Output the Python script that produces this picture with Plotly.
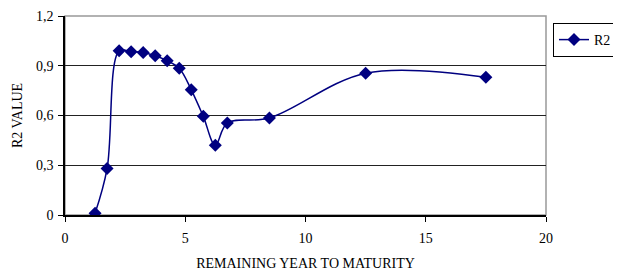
import plotly.graph_objects as go

years = [1.25, 1.75, 2.25, 2.75, 3.25, 3.75, 4.25, 4.75, 5.25, 5.75, 6.25, 6.75, 8.5, 12.5, 17.5]
r2 = [0.01, 0.28, 0.99, 0.985, 0.98, 0.96, 0.93, 0.885, 0.755, 0.595, 0.42, 0.555, 0.585, 0.855, 0.83]
y_ticks = [0, 0.3, 0.6, 0.9, 1.2]
x_ticks = [0, 5, 10, 15, 20]

font = "Liberation Serif"
W, H = 613, 266  # page body has an 8px margin

fig = go.Figure()
fig.add_trace(go.Scatter(
    x=years, y=r2, name="R2", mode="lines+markers",
    line=dict(color="#000080", width=1.5, shape="spline", smoothing=1.0),
    marker=dict(symbol="diamond", size=10, color="#000080"),
))

fig.update_layout(
    width=W, height=H,
    margin=dict(l=57, r=75, t=8, b=59),
    paper_bgcolor="white", plot_bgcolor="white",
    separators=", ",
    font=dict(family=font, size=14, color="black"),
    showlegend=True,
    legend=dict(xref="container", yref="container", x=545/W, xanchor="left",
                y=1 - 15/H, yanchor="top",
                bordercolor="black", borderwidth=1, bgcolor="white",
                font=dict(family=font, size=14), itemwidth=30,
                tracegroupgap=0),
    xaxis=dict(range=[0, 20], tickvals=x_ticks, showgrid=False, zeroline=False,
               showline=True, linecolor="black", linewidth=1.5,
               ticks="outside", ticklen=5, tickcolor="black", automargin=False,
               ticklabelstandoff=4,
               tickfont=dict(family=font, size=14),
               title=dict(text="REMAINING YEAR TO MATURITY", font=dict(family=font, size=14), standoff=14)),
    yaxis=dict(range=[0, 1.2], tickvals=y_ticks, showgrid=True, gridcolor="#222222", gridwidth=1,
               zeroline=False, showline=True, linecolor="black", linewidth=1.5,
               ticks="outside", ticklen=5, tickcolor="black", automargin="left",
               ticklabelstandoff=2,
               tickfont=dict(family=font, size=14),
               title=dict(text="R2 VALUE", font=dict(family=font, size=14), standoff=10)),
)
fig.add_shape(type="rect", xref="paper", yref="paper", x0=0, y0=0, x1=1, y1=1,
              line=dict(color="#999999", width=1.5), layer="below")
fig.write_html("out.html")
